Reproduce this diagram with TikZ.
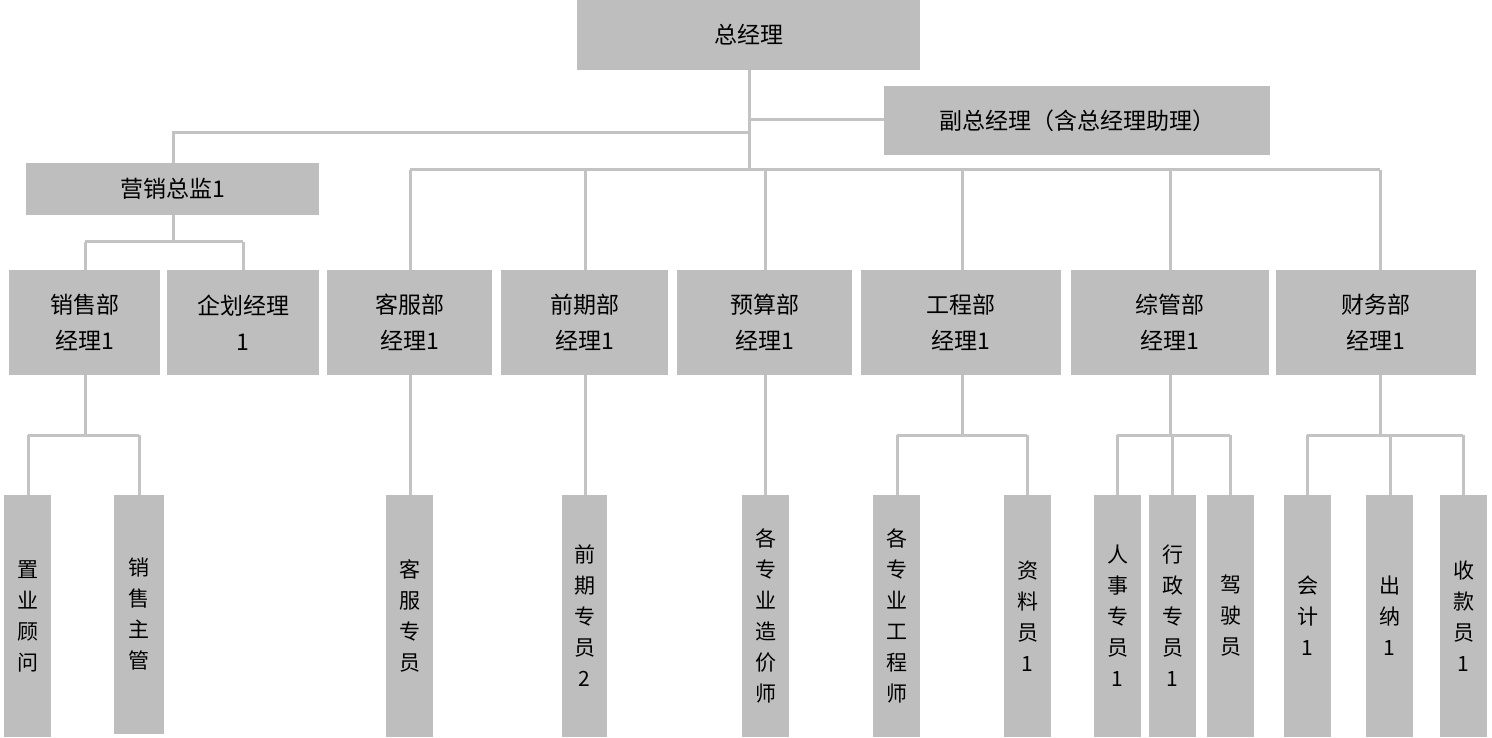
\documentclass[tikz,border=0pt]{standalone}
\usepackage{fontspec}
\setmainfont{Noto Sans CJK SC}
\begin{document}
\begin{tikzpicture}[x=1pt,y=-1pt,
 box/.style={fill=boxgray,draw=none,inner sep=0pt,align=center,font=\fontsize{23}{36}\selectfont},
 vbox/.style={box,font=\fontsize{21}{31}\selectfont},
 ln/.style={draw=linegray,line width=3pt}]
\definecolor{boxgray}{HTML}{BEBEBE}
\definecolor{linegray}{HTML}{C3C3C3}
\useasboundingbox (0,0) rectangle (1492,738);
\newcommand{\bx}[7][box]{\node[#1,minimum width={#5-#3},minimum height={#6-#4}] (#2) at ({(#3+#5)/2},{(#4+#6)/2}) {#7};}
% lines first
\coordinate (t0) at (749,70); \coordinate (t1) at (749,170);
\draw[ln] (t0) -- (t1);
\draw[ln] (749,120) -- (884,120);
\draw[ln] (749,133) -- (173,133) -- (173,163);
\draw[ln] (410,170) -- (1380,170);
\foreach \x in {410,585,765,962,1170,1380} \draw[ln] (\x,170) -- (\x,270);
\draw[ln] (173,215) -- (173,242); \draw[ln] (85,242) -- (243,242);
\foreach \x in {85,243} \draw[ln] (\x,242) -- (\x,270);
\draw[ln] (85,375) -- (85,435) (28,435) -- (139,435);
\foreach \x in {28,139} \draw[ln] (\x,435) -- (\x,495);
\draw[ln] (410,375) -- (410,495); \draw[ln] (585,375) -- (585,495); \draw[ln] (765,375) -- (765,495);
\draw[ln] (962,375) -- (962,435) (897,435) -- (1027,435);
\foreach \x in {897,1027} \draw[ln] (\x,435) -- (\x,495);
\draw[ln] (1170,375) -- (1170,435) (1117,435) -- (1230,435);
\foreach \x in {1117,1172,1230} \draw[ln] (\x,435) -- (\x,495);
\draw[ln] (1380,375) -- (1380,435) (1307,435) -- (1463,435);
\foreach \x in {1307,1390,1463} \draw[ln] (\x,435) -- (\x,495);
% boxes
\bx{gm}{577}{0}{920}{70}{总经理}
\bx{vgm}{884}{86}{1270}{155}{副总经理（含总经理助理）}
\bx{mk}{26}{163}{319}{215}{营销总监1}
\bx{xs}{9}{270}{160}{375}{销售部\\经理1}
\bx{qh}{167}{270}{319}{375}{企划经理\\1}
\bx{kf}{327}{270}{492}{375}{客服部\\经理1}
\bx{qq}{501}{270}{668}{375}{前期部\\经理1}
\bx{ys}{677}{270}{852}{375}{预算部\\经理1}
\bx{gc}{861}{270}{1061}{375}{工程部\\经理1}
\bx{zg}{1071}{270}{1269}{375}{综管部\\经理1}
\bx{cw}{1276}{270}{1476}{375}{财务部\\经理1}
\bx[vbox]{a1}{4}{495}{51}{737}{置\\业\\顾\\问}
\bx[vbox]{a2}{114}{495}{164}{734}{销\\售\\主\\管}
\bx[vbox]{a3}{386}{495}{433}{737}{客\\服\\专\\员}
\bx[vbox]{a4}{562}{495}{607}{737}{前\\期\\专\\员\\2}
\bx[vbox]{a5}{742}{495}{789}{737}{各\\专\\业\\造\\价\\师}
\bx[vbox]{a6}{873}{495}{920}{737}{各\\专\\业\\工\\程\\师}
\bx[vbox]{a7}{1004}{495}{1051}{737}{资\\料\\员\\1}
\bx[vbox]{a8}{1094}{495}{1141}{737}{人\\事\\专\\员\\1}
\bx[vbox]{a9}{1149}{495}{1196}{737}{行\\政\\专\\员\\1}
\bx[vbox]{a10}{1207}{495}{1254}{737}{驾\\驶\\员}
\bx[vbox]{a11}{1284}{495}{1331}{737}{会\\计\\1}
\bx[vbox]{a12}{1366}{495}{1413}{737}{出\\纳\\1}
\bx[vbox]{a13}{1440}{495}{1487}{737}{收\\款\\员\\1}
\end{tikzpicture}
\end{document}
